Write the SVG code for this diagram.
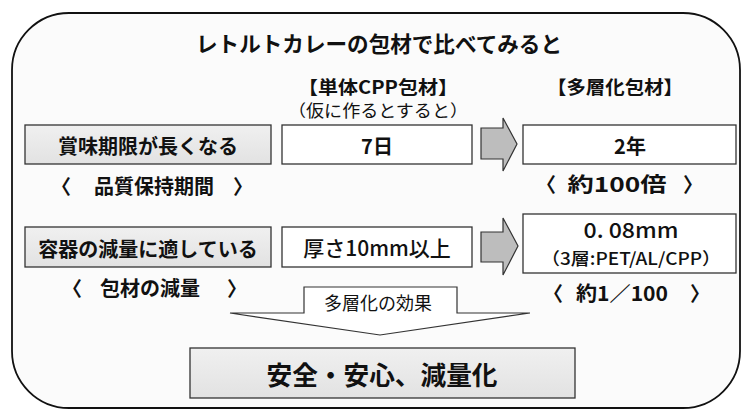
<svg xmlns="http://www.w3.org/2000/svg" width="743" height="411" viewBox="0 0 743 411">
<defs>
<linearGradient id="gl" x1="0" y1="0" x2="0" y2="1">
<stop offset="0" stop-color="#f0f0f0"/><stop offset="1" stop-color="#e2e2e2"/>
</linearGradient>
<style>
text{font-family:"Noto Sans CJK JP","Noto Sans",sans-serif;fill:#111;text-anchor:middle;dominant-baseline:central}
.b{font-weight:700}
.box{fill:#fff;stroke:#333;stroke-width:1.3}
.gbox{fill:url(#gl);stroke:#333;stroke-width:1.3}
.arr{fill:#bdbdbd;stroke:#333;stroke-width:1.2;stroke-linejoin:miter}
</style>
</defs>
<rect width="743" height="411" fill="#fff"/>
<g id="frame"><rect x="12" y="13" width="728" height="395" rx="57" ry="57" fill="#fbfbfb" stroke="#111" stroke-width="1.8"/></g>
<g id="title"><text x="379" y="42" class="b" font-size="21.5" textLength="366" lengthAdjust="spacingAndGlyphs">レトルトカレーの包材で比べてみると</text></g>
<g id="head-cpp">
<text x="378" y="86" class="b" font-size="18" textLength="160" lengthAdjust="spacingAndGlyphs">【単体CPP包材】</text>
<text x="378" y="110" font-size="16.5" textLength="180" lengthAdjust="spacingAndGlyphs">（仮に作るとすると）</text>
</g>
<g id="head-multi"><text x="615" y="86" class="b" font-size="18.5" textLength="136" lengthAdjust="spacingAndGlyphs">【多層化包材】</text></g>

<g id="row1-label">
<rect class="gbox" x="25" y="125" width="246" height="39"/>
<text x="148" y="145" class="b" font-size="20">賞味期限が長くなる</text>
</g>
<g id="row1-cpp">
<rect class="box" x="282" y="125" width="190" height="39"/>
<text x="377" y="145" class="b" font-size="20">7日</text>
</g>
<g id="row1-multi">
<rect class="box" x="523" y="125" width="213" height="39"/>
<text x="630" y="145" class="b" font-size="20">2年</text>
</g>
<g id="row1-note-left"><text y="185" class="b" font-size="20"><tspan x="61">〈</tspan><tspan x="154">品質保持期間</tspan><tspan x="243">〉</tspan></text></g>
<g id="row1-note-right"><text y="183" class="b" font-size="20"><tspan x="546">〈</tspan><tspan x="617" textLength="99" lengthAdjust="spacingAndGlyphs">約100倍</tspan><tspan x="693">〉</tspan></text></g>

<g id="row2-label">
<rect class="gbox" x="25" y="227" width="246" height="40"/>
<text x="148" y="248" class="b" font-size="20">容器の減量に適している</text>
</g>
<g id="row2-cpp">
<rect class="box" x="282" y="227" width="190" height="40"/>
<text x="377" y="247" font-size="21" font-weight="500">厚さ10mm以上</text>
</g>
<g id="row2-multi">
<rect class="box" x="523" y="214" width="213" height="59"/>
<text x="631" y="229" font-size="21" font-weight="500" textLength="95" lengthAdjust="spacingAndGlyphs">0. 08mm</text>
<text x="631" y="257" font-size="17" font-weight="500" textLength="180" lengthAdjust="spacingAndGlyphs">（3層:PET/AL/CPP）</text>
</g>
<g id="row2-note-left"><text y="287" class="b" font-size="20"><tspan x="72">〈</tspan><tspan x="150">包材の減量</tspan><tspan x="237">〉</tspan></text></g>
<g id="row2-note-right"><text y="292" class="b" font-size="20"><tspan x="553">〈</tspan><tspan x="622" textLength="92" lengthAdjust="spacingAndGlyphs">約1／100</tspan><tspan x="700">〉</tspan></text></g>

<g id="connectors">
<path class="arr" d="M481,128 L503,128 L503,118 L517,144 L503,171 L503,159 L481,159 Z"/>
<path class="arr" d="M481,232 L503,232 L503,218 L518,246 L503,275 L503,262 L481,262 Z"/>
</g>

<g id="effect">
<path d="M304,313 L304,287 L457,287 L457,313 L530,313 L380,335 L230,313 Z" fill="#fff" stroke="#333" stroke-width="1.2" stroke-linejoin="miter"/>
<text x="378" y="302" font-size="18">多層化の効果</text>
</g>
<g id="result">
<rect class="gbox" x="190" y="348" width="385" height="50"/>
<text x="382" y="373" class="b" font-size="26" textLength="231" lengthAdjust="spacingAndGlyphs">安全・安心、減量化</text>
</g>
</svg>
